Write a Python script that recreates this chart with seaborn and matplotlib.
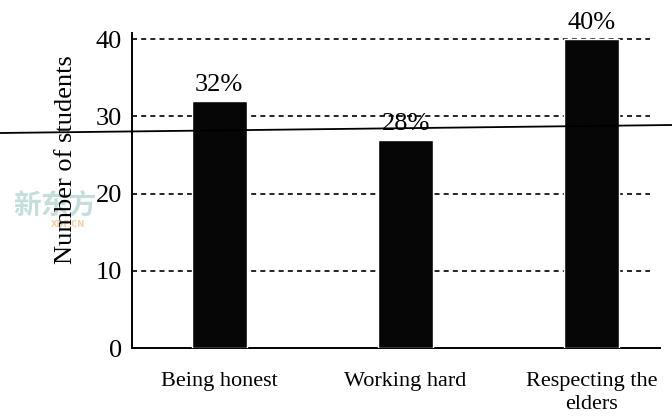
import matplotlib
matplotlib.use("Agg")
import matplotlib.pyplot as plt
import matplotlib.lines as mlines
import pandas as pd
import seaborn as sns

# data
categories = ["Being honest", "Working hard", "Respecting the\nelders"]
students = [32, 27, 40]
pct_labels = ["32%", "28%", "40%"]
y_ticks = [0, 10, 20, 30, 40]

df = pd.DataFrame({"cat": categories, "n": students})

sns.set_style("white")
plt.rcParams['font.family'] = ['Liberation Serif', 'DejaVu Serif']
plt.rcParams['text.color'] = 'black'
plt.rcParams['axes.labelcolor'] = 'black'
plt.rcParams['xtick.color'] = 'black'
plt.rcParams['ytick.color'] = 'black'

fig = plt.figure(figsize=(6.72, 4.17), dpi=100)
ax = fig.add_axes([0.196, 0.165, 0.786, 0.756])
ax.patch.set_alpha(0)

sns.barplot(data=df, x="cat", y="n", color="#060606", width=0.295,
            saturation=1, ax=ax, zorder=3)

# dashed grid lines
ax.hlines(y_ticks[1:], -0.47, 2.31, colors="black", linestyles=(0, (3, 2.5)),
          linewidth=1.2, zorder=1)

for i, lab in enumerate(pct_labels):
    ax.text(i, students[i] + 0.6, lab, ha="center", va="bottom", fontsize=19)

ax.set_xlim(-0.47, 2.365)
ax.set_ylim(0, 40.8)
ax.set_yticks(y_ticks)
ax.tick_params(axis="y", labelsize=19, length=0, pad=7)
ax.tick_params(axis="x", labelsize=16, length=0, pad=17)
ax.set_xlabel("")
ax.set_ylabel("Number of students", fontsize=19)
ax.yaxis.set_label_coords(-0.103, 0.597)
for t in ax.get_xticklabels():
    t.set_linespacing(1.3)

sns.despine(ax=ax, top=True, right=True)
for s in ["left", "bottom"]:
    ax.spines[s].set_linewidth(1.4)
    ax.spines[s].set_color("black")

# scan line across the page
fig.add_artist(mlines.Line2D([0, 1], [1 - 133 / 417, 1 - 125 / 417],
                             transform=fig.transFigure, color="black", lw=1.3))

# faint watermark, behind the axis label
fig.text(0.02, 0.485, "新东方", family=["Noto Sans CJK SC", "DejaVu Sans"],
         fontsize=20, fontweight="bold", color="#9fc9c4", alpha=0.6, zorder=-1)
fig.text(0.075, 0.455, "XDF.CN", family=["DejaVu Sans"], fontsize=6,
         fontweight="bold", color="#f0c890", alpha=0.8, zorder=-1)

fig.savefig("out.png", dpi=100)
